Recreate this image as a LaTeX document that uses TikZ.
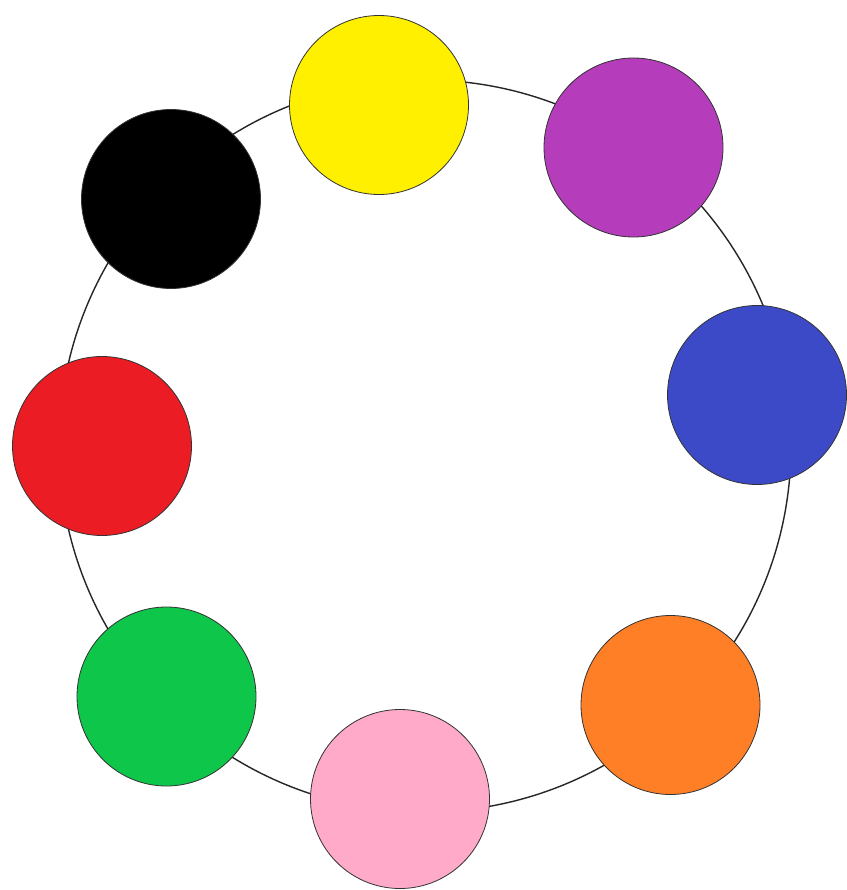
\documentclass[tikz,border=0pt]{standalone}
\begin{document}
\begin{tikzpicture}[x=1pt,y=-1pt,
  ring/.style={draw=black!85,line width=1.4pt},
  dot/.style={circle,draw=black!80,line width=0.8pt,inner sep=0pt,minimum size=179pt}]
\definecolor{cyellow}{RGB}{255,240,0}
\definecolor{cpurple}{RGB}{181,60,187}
\definecolor{cblue}{RGB}{60,74,200}
\definecolor{corange}{RGB}{255,127,39}
\definecolor{cpink}{RGB}{255,170,200}
\definecolor{cgreen}{RGB}{14,198,74}
\definecolor{cred}{RGB}{236,28,36}
\useasboundingbox (0,0) rectangle (846,890);
\fill[white] (0,0) rectangle (846,890);
\coordinate (c) at (425,446);
\draw[ring] (c) circle[radius=366];
\node[dot,fill=cyellow] (yellow) at (379,105) {};
\node[dot,fill=cpurple] (purple) at (633.5,147.5) {};
\node[dot,fill=cblue] (blue) at (757,395) {};
\node[dot,fill=corange] (orange) at (670.5,705) {};
\node[dot,fill=cpink] (pink) at (400,799) {};
\node[dot,fill=cgreen] (green) at (166.5,696.5) {};
\node[dot,fill=cred] (red) at (102,446) {};
\node[dot,fill=black] (black) at (171,199) {};
\end{tikzpicture}
\end{document}
